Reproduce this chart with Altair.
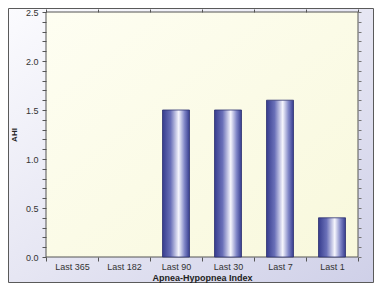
import altair as alt
import pandas as pd

categories = ["Last 365", "Last 182", "Last 90", "Last 30", "Last 7", "Last 1"]
ahi_values = [None, None, 1.5, 1.5, 1.6, 0.4]
y_ticks = [round(i * 0.1, 1) for i in range(26)]

df = pd.DataFrame({"period": categories, "ahi": ahi_values})
one = pd.DataFrame({"a": [0]})

W, H = 312, 245
PL, PT, PR, PB = 38, 4, 16, 26
FONT = "Liberation Sans"

bar_grad = alt.LinearGradient(
    gradient="linear", x1=0, x2=1, y1=0, y2=0,
    stops=[
        alt.GradientStop(color="#363c8e", offset=0),
        alt.GradientStop(color="#6a70b8", offset=0.3),
        alt.GradientStop(color="#f6f6fd", offset=0.6),
        alt.GradientStop(color="#7e84c6", offset=0.82),
        alt.GradientStop(color="#363c8e", offset=1),
    ],
)
outer_grad = alt.LinearGradient(
    gradient="linear", x1=0, x2=1, y1=0, y2=1,
    stops=[
        alt.GradientStop(color="#fbfbfe", offset=0),
        alt.GradientStop(color="#e6e6f3", offset=0.5),
        alt.GradientStop(color="#cfd0e8", offset=1),
    ],
)
plot_grad = alt.LinearGradient(
    gradient="linear", x1=0, x2=1, y1=0, y2=1,
    stops=[
        alt.GradientStop(color="#fefef2", offset=0),
        alt.GradientStop(color="#f8f8dc", offset=1),
    ],
)

outer = alt.Chart(one).mark_rect(fill=outer_grad, stroke="#5a5a5a", strokeWidth=1).encode(
    x=alt.value(-PL + 0.5), x2=alt.value(W + PR - 0.5),
    y=alt.value(-PT + 0.5), y2=alt.value(H + PB - 0.5),
)
plot_bg = alt.Chart(one).mark_rect(fill=plot_grad, stroke="#555555", strokeWidth=1).encode(
    x=alt.value(0), x2=alt.value(W), y=alt.value(0), y2=alt.value(H),
)

xscale = alt.Scale(domain=categories, paddingInner=0, paddingOuter=0)
yscale = alt.Scale(domain=[0, 2.5], nice=False, zero=True)

label_expr = "abs(datum.value*2 - round(datum.value*2)) < 0.001 ? format(datum.value, '.1f') : ''"

bars = alt.Chart(df).mark_bar(size=27, fill=bar_grad, stroke="#2c3070", strokeWidth=0.8).encode(
    x=alt.X("period:N", sort=categories, scale=xscale,
            axis=alt.Axis(orient="bottom", title="Apnea-Hypopnea Index", tickBand="extent",
                          labelAngle=0, tickSize=4, labelPadding=1, domain=False,
                          tickColor="#555555", labelColor="#333333", labelFont=FONT,
                          labelFontSize=9, titleFont=FONT, titleFontSize=9, titleFontWeight="bold",
                          titleColor="#222222", titleY=20, titleBaseline="middle", zindex=1)),
    y=alt.Y("ahi:Q", scale=yscale,
            axis=alt.Axis(orient="left", title="AHI", values=y_ticks, labelExpr=label_expr,
                          tickSize=4, labelPadding=4, domain=False, tickColor="#555555",
                          labelColor="#333333", labelFont=FONT, labelFontSize=9,
                          titleFont=FONT, titleFontSize=8, titleFontWeight="bold",
                          titleColor="#222222", titleX=-32, titleY=H / 2,
                          titleBaseline="middle", grid=False, zindex=1)),
)

ghost = alt.Chart(df).mark_point(opacity=0).encode(
    x=alt.X("period:N", sort=categories, scale=xscale,
            axis=alt.Axis(orient="top", title=None, labels=False, tickBand="extent",
                          tickSize=3, domain=False, tickColor="#555555", zindex=1)),
    y=alt.Y("ahi:Q", scale=yscale,
            axis=alt.Axis(orient="right", title=None, labels=False, values=y_ticks,
                          tickSize=3, domain=False, tickColor="#777777", grid=False, zindex=1)),
)

chart = alt.layer(outer, plot_bg, bars, ghost).resolve_axis(
    x="independent", y="independent"
).properties(
    width=W, height=H,
    padding={"left": PL, "top": PT, "right": PR, "bottom": PB},
    autosize=alt.AutoSizeParams(type="none"),
).configure_view(stroke=None)

chart.save("out.html", embed_options={"renderer": "svg", "actions": False})
